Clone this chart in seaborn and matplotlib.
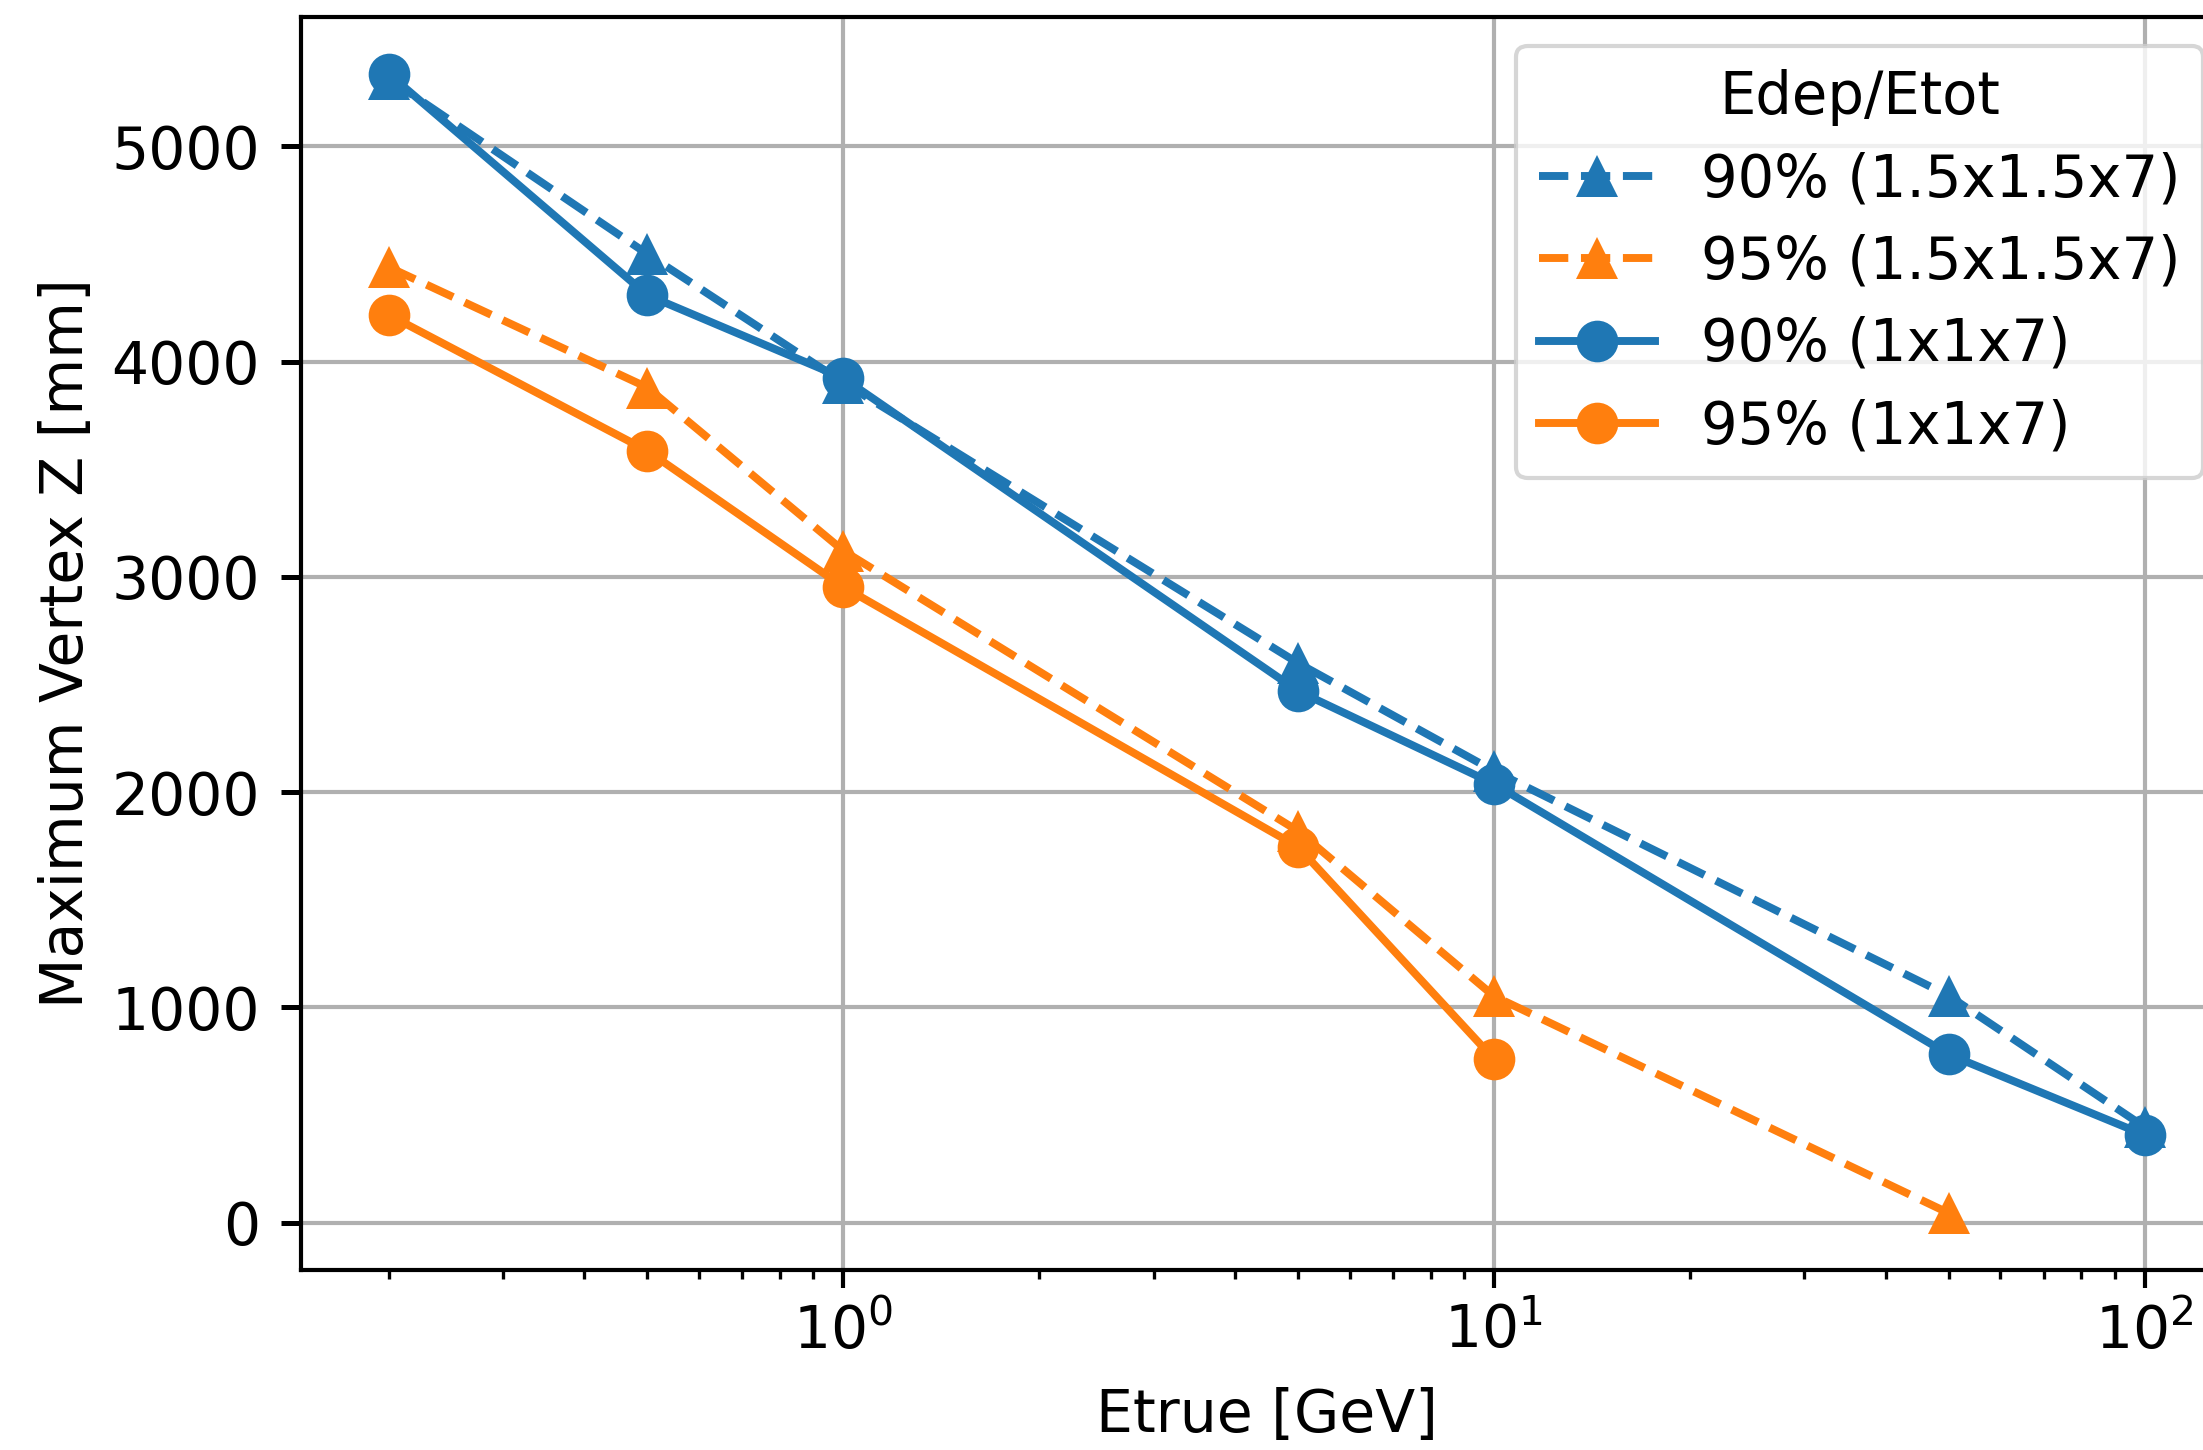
import matplotlib
matplotlib.use("Agg")
import matplotlib.pyplot as plt
import seaborn as sns
import pandas as pd

# ---- data ----
energies_7 = [0.2, 0.5, 1, 5, 10, 50, 100]
energies_6 = [0.2, 0.5, 1, 5, 10, 50]
energies_5 = [0.2, 0.5, 1, 5, 10]

z90_15 = [5315, 4500, 3903, 2600, 2099, 1055, 445]
z95_15 = [4440, 3880, 3122, 1820, 1053, 45]
z90_1 = [5338, 4309, 3924, 2470, 2039, 782, 408]
z95_1 = [4218, 3586, 2954, 1746, 761]

labels = ["90% (1.5x1.5x7)", "95% (1.5x1.5x7)", "90% (1x1x7)", "95% (1x1x7)"]
legend_title = "Edep/Etot"
xlabel = "Etrue [GeV]"
ylabel = "Maximum Vertex Z [mm]"

blue = "#1f77b4"
orange = "#ff7f0e"

FS = 14
LFS = 13.85
plt.rcParams["font.family"] = ["DejaVu Sans"]
plt.rcParams["font.size"] = FS
plt.rcParams["axes.linewidth"] = 1.0
plt.rcParams["xtick.major.size"] = 4.4
plt.rcParams["xtick.minor.size"] = 2.2
plt.rcParams["ytick.major.size"] = 4.8
plt.rcParams["xtick.major.width"] = 1.0
plt.rcParams["xtick.minor.width"] = 0.8
plt.rcParams["ytick.major.width"] = 1.2
plt.rcParams["xtick.major.pad"] = 3.5
plt.rcParams["ytick.major.pad"] = 5.0

fig = plt.figure(figsize=(2203 / 300, 1450 / 300), dpi=300)
ax = fig.add_axes([0.1365, 0.1241, 0.8768, 0.8644])

series = [
    (energies_7, z90_15, blue, "^", "--", labels[0]),
    (energies_6, z95_15, orange, "^", "--", labels[1]),
    (energies_7, z90_1, blue, "o", "-", labels[2]),
    (energies_5, z95_1, orange, "o", "-", labels[3]),
]

for xs, ys, col, mk, ls, lab in series:
    df = pd.DataFrame({"E": xs, "Z": ys})
    sns.lineplot(data=df, x="E", y="Z", ax=ax, color=col, marker=mk,
                 linestyle=ls, label=lab, linewidth=1.9, markersize=10,
                 markeredgewidth=0, markeredgecolor=col)

ax.set_xscale("log")
ax.grid(True, which="major", color="#b0b0b0", linewidth=1.0)
ax.set_axisbelow(True)
ax.set_xlabel(xlabel, labelpad=6.3)
ax.set_ylabel(ylabel)
ax.set_yticks([0, 1000, 2000, 3000, 4000, 5000])
ax.margins(0.05)

leg = ax.legend(title=legend_title, loc="upper right", fontsize=LFS,
                title_fontsize=LFS, labelspacing=0.44)

fig.savefig("out.png", dpi=300)
